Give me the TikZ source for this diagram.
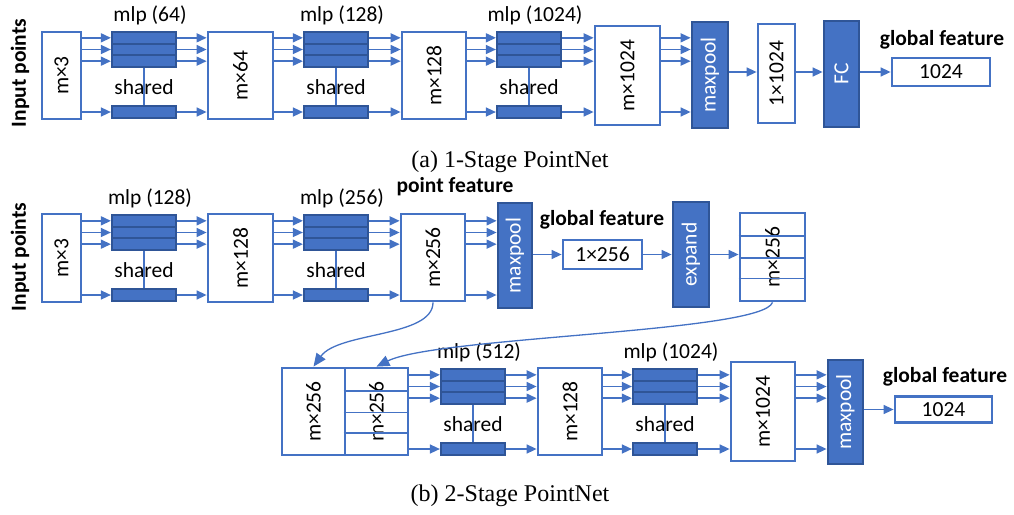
\documentclass[tikz,border=0pt]{standalone}
\usepackage{fontspec}
\setmainfont{Carlito}
\newfontfamily\capfont{Liberation Serif}
\usetikzlibrary{arrows.meta,calc}

\definecolor{cBlue}{HTML}{4472C4}
\definecolor{cDark}{HTML}{2F5597}
\newcommand\fsz{\fontsize{21.5}{25}\selectfont}

\tikzset{
  wbox/.style={draw=cBlue, line width=2.8pt, fill=white, inner sep=0pt},
  dbox/.style={draw=cDark, line width=2.8pt, fill=cBlue, inner sep=0pt},
  bar/.style={draw=cDark, line width=2.2pt, fill=cBlue, inner sep=0pt,
              minimum width=64pt, minimum height=11.67pt},
  stem/.style={draw=cBlue, line width=2pt},
  arr/.style={draw=cBlue, line width=1.5pt, -{Triangle[length=10pt,width=9pt]}},
  curvearr/.style={draw=cBlue, line width=1.3pt, -{Triangle[length=13pt,width=11pt]}},
  rowline/.style={draw=cBlue, line width=1.3pt},
  txt/.style={font=\fsz, inner sep=0pt},
  btxt/.style={font=\fsz\bfseries, inner sep=0pt},
  captxt/.style={font=\capfont\fontsize{24}{28}\selectfont, inner sep=0pt},
}

% white box with vertical text: name, cx, cy, width, height, text
\newcommand\wb[6]{%
  \node[wbox, minimum width=#4pt, minimum height=#5pt] (#1) at (#2,#3) {};
  \node[txt, rotate=90] (#1t) at (#1.center) {#6};}
% filled box with vertical white text
\newcommand\db[6]{%
  \node[dbox, minimum width=#4pt, minimum height=#5pt] (#1) at (#2,#3) {};
  \node[txt, rotate=90, text=white] (#1t) at (#1.center) {#6};}
% shared mlp: name, left x, top y, label
\newcommand\mlp[4]{%
  \node[bar] (#11) at (#2+32, #3+5.83) {};
  \node[bar] (#12) at (#2+32, #3+17.5) {};
  \node[bar] (#13) at (#2+32, #3+29.17) {};
  \node[bar] (#1b) at (#2+32, #3+80) {};
  \draw[stem] (#13.south) -- (#1b.north);
  \node[txt] (#1lab) at (#2+38, #3-17) {#4};
  \node[txt] (#1sh) at (#2+32, #3+55) {shared};}
% arrows from a box into the bars of an mlp
\newcommand\into[2]{%
  \foreach \k in {1,2,3,b} \draw[arr] (#1.east |- #2\k) -- (#2\k.west);}
% arrows from the bars of an mlp into a box
\newcommand\outof[2]{%
  \foreach \k in {1,2,3,b} \draw[arr] (#1\k.east) -- (#1\k.east -| #2.west);}
% arrows from a box to a box, at the heights of an mlp's bars
\newcommand\across[3]{%
  \foreach \k in {1,2,3,b} \draw[arr] (#1.east |- #3\k) -- (#3\k -| #2.west);}
% thin row lines inside a box
\newcommand\rows[1]{%
  \foreach \f in {0.27,0.51,0.74}
    \draw[rowline] ($(#1.north west)!\f!(#1.south west)$) -- ($(#1.north east)!\f!(#1.south east)$);}

\begin{document}
\begin{tikzpicture}[x=1pt,y=-1pt]
\useasboundingbox (0,0) rectangle (1014,514);

% ---------- (a) 1-Stage PointNet ----------
\node[btxt, rotate=90] (inpa) at (20,73) {Input points};
\wb{m3a}{61.5}{75.5}{39}{87}{m×3}
\mlp{a}{112}{32}{mlp (64)}
\wb{m64}{240.5}{75.5}{65}{87}{m×64}
\mlp{b}{304}{32}{mlp (128)}
\wb{m128a}{434}{75.5}{64}{87}{m×128}
\mlp{c}{497}{32}{mlp (1024)}
\wb{m1024a}{627.5}{75.5}{65}{99}{m×1024}
\db{mpa}{710}{75}{36}{106}{maxpool}
\wb{v1024}{776.5}{73.5}{37}{99}{1×1024}
\db{fc}{841.5}{74}{35}{106}{FC}
\node[wbox, txt, minimum width=98pt, minimum height=28pt] (g1024a) at (941,72) {1024};
\node[btxt] (gfa) at (942,40) {global feature};

\into{m3a}{a}
\outof{a}{m64}
\into{m64}{b}
\outof{b}{m128a}
\into{m128a}{c}
\outof{c}{m1024a}
\across{m1024a}{mpa}{c}
\draw[arr] (mpa.east |- g1024a.west) -- (v1024.west |- g1024a.west);
\draw[arr] (v1024.east |- g1024a.west) -- (fc.west |- g1024a.west);
\draw[arr] (fc.east |- g1024a.west) -- (g1024a.west);

\node[captxt] (capa) at (510,162) {(a) 1-Stage PointNet};

% ---------- (b) 2-Stage PointNet ----------
\node[btxt, rotate=90] (inpb) at (20,257) {Input points};
\wb{m3b}{61.5}{258}{39}{88}{m×3}
\mlp{d}{112}{215}{mlp (128)}
\wb{m128b}{240.5}{258}{65}{88}{m×128}
\mlp{e}{304}{215}{mlp (256)}
\wb{m256a}{433}{257.5}{64}{87}{m×256}
\node[btxt] (pf) at (455,187) {point feature};
\db{mpb}{515}{255.5}{34}{105}{maxpool}
\node[wbox, txt, minimum width=79pt, minimum height=29pt] (v256) at (602.5,254.5) {1×256};
\node[btxt] (gfb) at (602,220) {global feature};
\db{exp}{691}{254.5}{36}{105}{expand}
\wb{m256b}{772.5}{257}{65}{88}{m×256}
\rows{m256b}

\into{m3b}{d}
\outof{d}{m128b}
\into{m128b}{e}
\outof{e}{m256a}
\across{m256a}{mpb}{e}
\draw[arr] (mpb.east |- v256.west) -- (v256.west);
\draw[arr] (v256.east) -- (v256.east -| exp.west);
\draw[arr] (exp.east |- v256.east) -- (m256b.west |- v256.east);

% second stage
\wb{m256c}{313.5}{411.5}{63}{87}{m×256}
\wb{m256d}{376.5}{411.5}{63}{87}{m×256}
\rows{m256d}
\mlp{f}{441}{369}{mlp (512)}
\wb{m128c}{570}{411.5}{64}{87}{m×128}
\mlp{g}{633}{369}{mlp (1024)}
\wb{m1024b}{763}{411.5}{64}{99}{m×1024}
\db{mpc}{845.5}{412}{35}{104}{maxpool}
\node[wbox, txt, minimum width=97pt, minimum height=26pt] (g1024b) at (943.5,409.5) {1024};
\node[btxt] (gfc) at (945,377) {global feature};

\into{m256d}{f}
\outof{f}{m128c}
\into{m128c}{g}
\outof{g}{m1024b}
\across{m1024b}{mpc}{g}
\draw[arr] (mpc.east |- g1024b.west) -- (g1024b.west);

% concatenation links
\draw[curvearr] (m256a.south) .. controls +(0,35) and +(25,-35) .. (m256c.north);
\draw[curvearr] (m256b.south) .. controls +(-10,30) and +(60,-30) .. (m256d.north);

\node[captxt] (capb) at (510,496) {(b) 2-Stage PointNet};
\end{tikzpicture}
\end{document}
